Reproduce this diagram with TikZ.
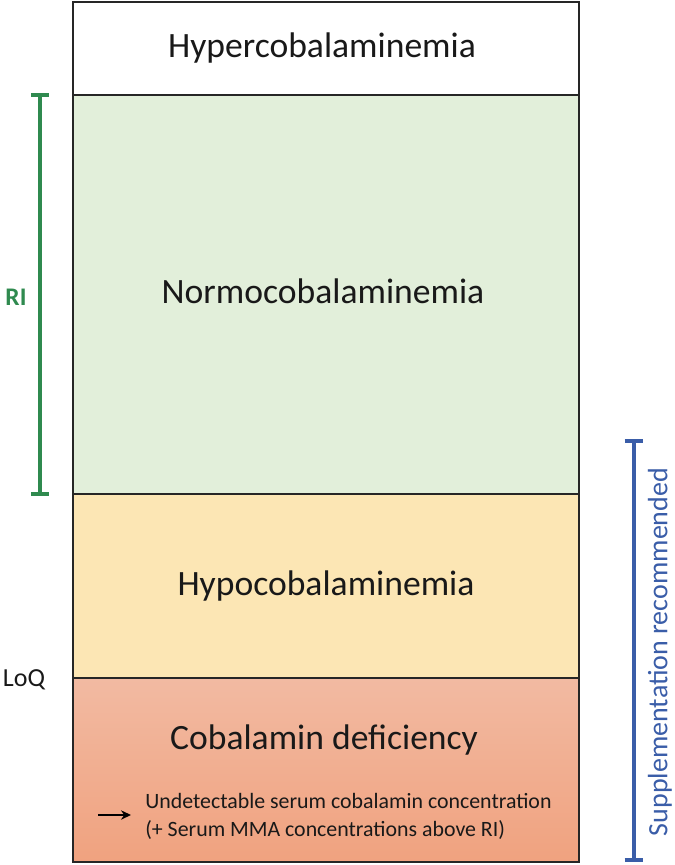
\documentclass[tikz,border=0pt]{standalone}
\usepackage{fontspec}
\setmainfont{Carlito}
\usetikzlibrary{arrows.meta}
\definecolor{greenfill}{HTML}{E2EFDA}
\definecolor{yellowfill}{HTML}{FCE6B4}
\definecolor{redtop}{HTML}{F2BAA2}
\definecolor{redbot}{HTML}{F0A27F}
\definecolor{ricolor}{HTML}{2F8A4F}
\definecolor{suppcolor}{HTML}{3A5DA8}
\begin{document}
\begin{tikzpicture}[x=0.75pt,y=-0.75pt,
  band/.style={draw=black!85,line width=1.4pt},
  bigtext/.style={font=\fontsize{26.7}{30}\selectfont,text=black!90},
  smalltext/.style={font=\fontsize{16.4}{21}\selectfont,align=left,anchor=west,inner sep=0pt,text=black!90},
  ribar/.style={draw=ricolor,line width=2.6pt},
  suppbar/.style={draw=suppcolor,line width=2.6pt}]
\useasboundingbox (0,0) rectangle (675,865);
% bands
\path[fill=white] (73,2) rectangle (579,95);
\path[fill=greenfill] (73,95) rectangle (579,494);
\path[fill=yellowfill] (73,494) rectangle (579,678);
\path[top color=redtop,bottom color=redbot] (73,678) rectangle (579,862);
\draw[band] (73,95) -- (579,95);
\draw[band] (73,494) -- (579,494);
\draw[band] (73,678) -- (579,678);
\draw[band] (73,2) rectangle (579,862);
% texts
\node[bigtext] (hyper) at (322,48) {Hypercobalaminemia};
\node[bigtext] (normo) at (323,291) {Normocobalaminemia};
\node[bigtext] (hypo) at (326,586) {Hypocobalaminemia};
\node[bigtext] (def) at (324,740) {Cobalamin deficiency};
\node[smalltext] (note) at (145,816) {Undetectable serum cobalamin concentration\\(+ Serum MMA concentrations above RI)};
\coordinate (arrs) at (98,815);
\coordinate (arre) at (131,815);
\draw[line width=1.7pt,-{Stealth[length=7.5pt,width=7pt]}] (arrs) -- (arre);
% RI bracket
\coordinate (ritop) at (40,95);
\coordinate (ribot) at (40,494);
\draw[ribar] (ritop) -- (ribot);
\draw[ribar] ([xshift=-6.5]ritop) -- ([xshift=6.5]ritop);
\draw[ribar] ([xshift=-6.5]ribot) -- ([xshift=6.5]ribot);
\node[font=\fontsize{19}{22}\selectfont\bfseries,text=ricolor] (ri) at (16,297) {RI};
% LoQ
\node[font=\fontsize{19.5}{22}\selectfont,text=black!90] (loq) at (24,680) {LoQ};
% Supplementation bracket
\coordinate (stop) at (634,441);
\coordinate (sbot) at (634,860);
\draw[suppbar] (stop) -- (sbot);
\draw[suppbar] ([xshift=-7]stop) -- ([xshift=7]stop);
\draw[suppbar] ([xshift=-7]sbot) -- ([xshift=7]sbot);
\node[font=\fontsize{21}{24}\selectfont,text=suppcolor,rotate=90] (supp) at (660,652) {Supplementation recommended};
\end{tikzpicture}
\end{document}
